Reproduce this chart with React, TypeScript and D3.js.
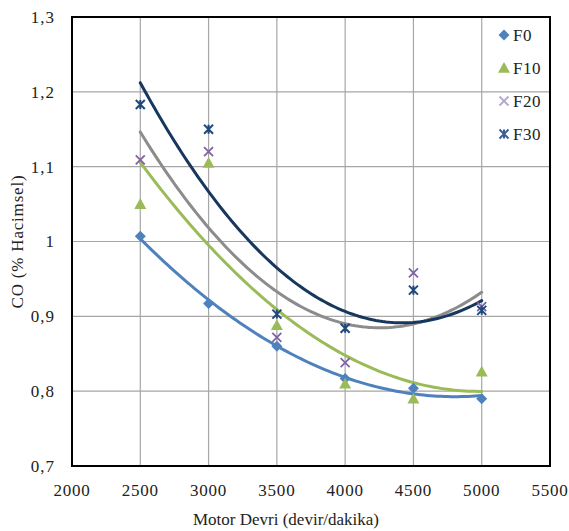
import React from "react";
import * as d3 from "d3";

const rpm = [2500, 3000, 3500, 4000, 4500, 5000];
const F0 = [1.007, 0.917, 0.86, 0.817, 0.804, 0.79];
const F10 = [1.05, 1.105, 0.888, 0.81, 0.79, 0.826];
const F20 = [1.109, 1.12, 0.872, 0.838, 0.958, 0.913];
const F30 = [1.183, 1.15, 0.903, 0.884, 0.935, 0.908];
const xTicks = [2000, 2500, 3000, 3500, 4000, 4500, 5000, 5500];
const yTicks = [0.7, 0.8, 0.9, 1.0, 1.1, 1.2, 1.3];

const series = [
  { name: "F0", values: F0, color: "#4F81BD", trend: "#4F81BD", marker: "diamond" },
  { name: "F10", values: F10, color: "#9BBB59", trend: "#9BBB59", marker: "triangle" },
  { name: "F20", values: F20, color: "#8064A2", trend: "#8C8C8C", marker: "x" },
  { name: "F30", values: F30, color: "#1F497D", trend: "#17375E", marker: "star" },
];

function quadFit(xs: number[], ys: number[]) {
  const t = xs.map((x) => (x - 3750) / 1000);
  let s0 = 0, s1 = 0, s2 = 0, s3 = 0, s4 = 0, sy = 0, sty = 0, st2y = 0;
  t.forEach((v, i) => {
    s0 += 1; s1 += v; s2 += v * v; s3 += v ** 3; s4 += v ** 4;
    sy += ys[i]; sty += v * ys[i]; st2y += v * v * ys[i];
  });
  const M = [[s0, s1, s2, sy], [s1, s2, s3, sty], [s2, s3, s4, st2y]];
  for (let i = 0; i < 3; i++) {
    for (let j = i + 1; j < 3; j++) {
      const f = M[j][i] / M[i][i];
      for (let k = i; k < 4; k++) M[j][k] -= f * M[i][k];
    }
  }
  const c = M[2][3] / M[2][2];
  const b = (M[1][3] - M[1][2] * c) / M[1][1];
  const a = (M[0][3] - M[0][1] * b - M[0][2] * c) / M[0][0];
  return (x: number) => {
    const v = (x - 3750) / 1000;
    return a + b * v + c * v * v;
  };
}

const W = 569, H = 531;
const m = { left: 72, top: 17, right: 550, bottom: 466 };

export default function App() {
  const x = d3.scaleLinear().domain([2000, 5500]).range([m.left, m.right]);
  const y = d3.scaleLinear().domain([0.7, 1.3]).range([m.bottom, m.top]);
  const font = "Liberation Serif, DejaVu Serif, serif";

  const marker = (type: string, cx: number, cy: number, color: string, key: string) => {
    if (type === "diamond") {
      const s = 5.5;
      return <path key={key} d={`M${cx},${cy - s}L${cx + s},${cy}L${cx},${cy + s}L${cx - s},${cy}Z`} fill={color} />;
    }
    if (type === "triangle") {
      const s = 6;
      return <path key={key} d={`M${cx},${cy - s}L${cx + s},${cy + s * 0.8}L${cx - s},${cy + s * 0.8}Z`} fill={color} />;
    }
    if (type === "x") {
      const s = 4.5;
      return <path key={key} d={`M${cx - s},${cy - s}L${cx + s},${cy + s}M${cx - s},${cy + s}L${cx + s},${cy - s}`} stroke={color} strokeWidth={1.8} fill="none" />;
    }
    const s = 4.5;
    return <path key={key} d={`M${cx - s},${cy - s}L${cx + s},${cy + s}M${cx - s},${cy + s}L${cx + s},${cy - s}M${cx},${cy - s}L${cx},${cy + s}`} stroke={color} strokeWidth={2} fill="none" />;
  };

  const line = d3.line<number>().x((d) => x(d[0])).y((d) => y(d[1])) as any;
  const xs = d3.range(2500, 5001, 25);

  return (
    <svg width={W} height={H} style={{ position: "absolute", left: 0, top: 0 }}>
      <rect x={0} y={0} width={W} height={H} fill="#fff" />
      {xTicks.map((t) => (
        <line key={"gx" + t} x1={x(t)} x2={x(t)} y1={m.top} y2={m.bottom} stroke="#A6A6A6" strokeWidth={1.2} />
      ))}
      {yTicks.map((t) => (
        <line key={"gy" + t} x1={m.left} x2={m.right} y1={y(t)} y2={y(t)} stroke="#A6A6A6" strokeWidth={1.2} />
      ))}
      {series.map((s) => {
        const f = quadFit(rpm, s.values);
        const pts = xs.map((v) => [v, f(v)]);
        return <path key={"t" + s.name} d={line(pts)} fill="none" stroke={s.trend} strokeWidth={3} strokeLinecap="round" />;
      })}
      {series.map((s) =>
        s.values.map((v, i) => marker(s.marker, x(rpm[i]), y(v), s.color, s.name + i))
      )}
      <rect x={m.left} y={m.top} width={m.right - m.left} height={m.bottom - m.top} fill="none" stroke="#000" strokeWidth={2} />
      {yTicks.map((t) => (
        <text key={"yl" + t} x={m.left - 17} y={y(t)} dy="0.35em" textAnchor="end" fontFamily={font} fontSize={17} letterSpacing={1} fill="#222">
          {d3.format(".1f")(t).replace(".", ",").replace(/^1,0$/, "1")}
        </text>
      ))}
      {xTicks.map((t) => (
        <text key={"xl" + t} x={x(t)} y={m.bottom + 30} textAnchor="middle" fontFamily={font} fontSize={17} letterSpacing={0.8} fill="#222">
          {t}
        </text>
      ))}
      <text x={(m.left + m.right) / 2 - 25} y={525} textAnchor="middle" fontFamily={font} fontSize={17} fill="#222">
        Motor Devri (devir/dakika)
      </text>
      <text transform={`translate(23,${(m.top + m.bottom) / 2}) rotate(-90)`} textAnchor="middle" fontFamily={font} fontSize={17} letterSpacing={0.8} fill="#222">
        CO (% Hacimsel)
      </text>
      {series.map((s, i) => {
        const ly = 35 + i * 33;
        const legColor = s.marker === "x" ? "#B7A6CC" : s.color === "#1F497D" ? "#3A5F95" : s.color;
        return (
          <g key={"lg" + s.name}>
            {marker(s.marker, 504, ly, legColor, "lm" + s.name)}
            <text x={513} y={ly} dy="0.35em" fontFamily={font} fontSize={17} letterSpacing={0.5} fill="#222">{s.name}</text>
          </g>
        );
      })}
    </svg>
  );
}
